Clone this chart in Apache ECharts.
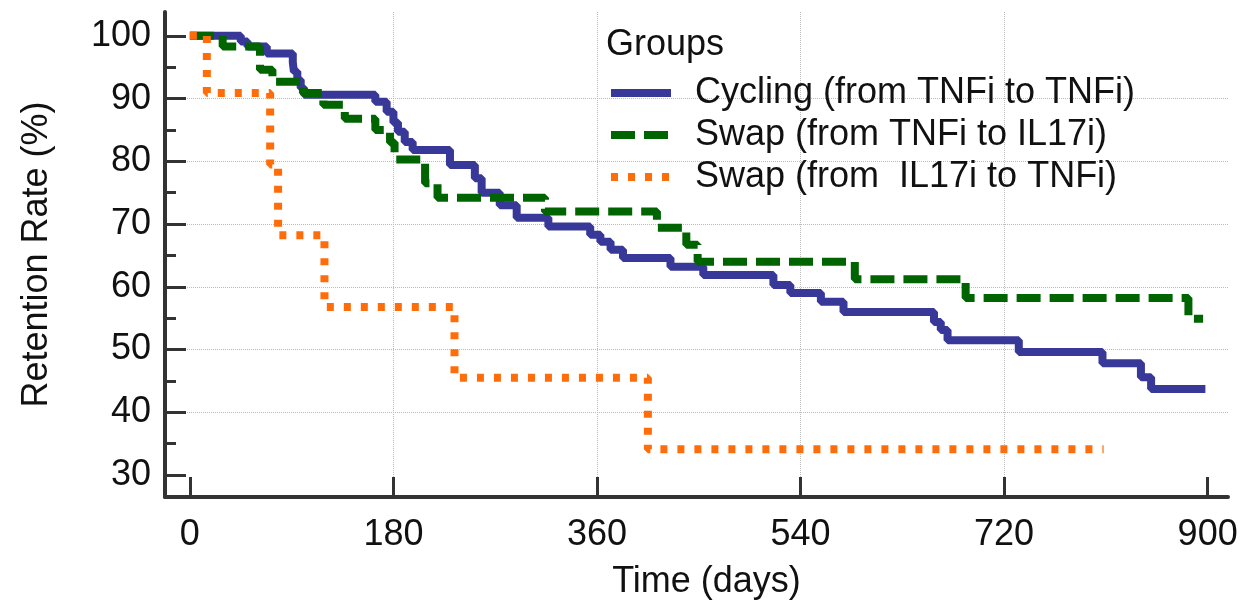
<!DOCTYPE html>
<html>
<head>
<meta charset="utf-8">
<title>Retention Rate</title>
<script src="https://cdn.jsdelivr.net/npm/echarts@6/dist/echarts.min.js"></script>
<style>
  html, body { margin: 0; padding: 0; background: #fff; }
  #chart { width: 1248px; height: 609px; }
</style>
</head>
<body>
<div id="chart"></div>
<script>
// 数据：各组的时间点(天)与保留率(%)
var cyclingDays = [0, 45, 51, 68, 91, 92, 95, 98, 101, 164, 174, 180, 184, 190, 197, 230, 252, 258, 274, 289,
  317, 354, 363, 372, 383, 425, 454, 516, 531, 558, 578, 658, 664, 670, 733, 807, 841, 850, 898];
var cyclingRate = [100, 99.1, 98.3, 97.2, 95.8, 94.3, 93, 91.7, 90.6, 89.5, 87.9, 86.2, 84.7, 83.1, 81.8, 79.4, 77.3, 75, 73, 71,
  69.6, 68.3, 67.2, 65.9, 64.6, 63.2, 61.9, 60.3, 59, 57.6, 56, 54.4, 53.1, 51.5, 49.6, 47.8, 45.6, 43.7, 43.7];

var swapIl17Days = [0, 29, 62, 73, 100, 118, 137, 164, 177, 181, 208, 219, 314, 413, 439, 449, 588, 686, 883, 896];
var swapIl17Rate = [100, 98.3, 94.6, 92.7, 90.9, 89, 86.8, 85, 83, 80.3, 76.5, 74.2, 72, 69.4, 66.7, 64, 61.2, 58.2, 54.9, 54.9];

var swapTnfDays = [0, 15, 71, 78, 119, 234, 405, 808];
var swapTnfRate = [100, 90.9, 79.5, 68.2, 56.8, 45.5, 34.1, 34.1];

var groupNames = ['Cycling (from TNFi to TNFi)', 'Swap (from TNFi to IL17i)', 'Swap (from  IL17i to TNFi)'];

var xTicks = [0, 180, 360, 540, 720, 900];
var yTicks = [30, 40, 50, 60, 70, 80, 90, 100];
var yMinorTicks = [35, 45, 55, 65, 75, 85, 95];

function pairs(xs, ys) {
  return xs.map(function (x, i) { return [x, ys[i]]; });
}

var font = 'Liberation Sans, Arial, sans-serif';
var axisColor = '#333';
var gridLine = { show: true, showMinLine: false, showMaxLine: false, lineStyle: { type: 'dotted', color: '#bbb', width: 1 } };

var myChart = echarts.init(document.getElementById('chart'));

var option = {
  animation: false,
  backgroundColor: '#fff',
  textStyle: { fontFamily: font, color: '#111' },
  title: {
    text: 'Groups',
    left: 606,
    top: 27,
    padding: 0,
    textStyle: { fontSize: 36, fontWeight: 'normal', color: '#111', fontFamily: font }
  },
  legend: {
    orient: 'vertical',
    left: 607,
    top: 75,
    padding: 0,
    itemGap: 6,
    itemWidth: 60,
    itemHeight: 14,
    data: groupNames,
    itemStyle: { opacity: 0 },
    lineStyle: { width: 8 },
    textStyle: { fontSize: 36, color: '#111', fontFamily: font, padding: [0, 0, 0, 19] }
  },
  grid: { left: 165, right: 20, top: 12, bottom: 112 },
  xAxis: {
    type: 'value',
    min: -22,
    max: 918,
    name: 'Time (days)',
    nameLocation: 'middle',
    nameGap: 67,
    nameTextStyle: { fontSize: 36, color: '#111', fontFamily: font, padding: [0, 0, 0, 20] },
    axisLine: { show: true, onZero: false, lineStyle: { color: axisColor, width: 4 } },
    axisTick: { show: true, inside: true, length: 20, customValues: xTicks, lineStyle: { color: axisColor, width: 3 } },
    axisLabel: { customValues: xTicks, fontSize: 36, margin: 20, color: '#111', fontFamily: font },
    splitLine: gridLine
  },
  yAxis: [{
    type: 'value',
    min: 26.5,
    max: 103.8,
    name: 'Retention Rate (%)',
    nameLocation: 'middle',
    nameGap: 110,
    nameTextStyle: { fontSize: 36, color: '#111', fontFamily: font },
    axisLine: { show: true, onZero: false, lineStyle: { color: axisColor, width: 4 } },
    axisTick: { show: true, inside: true, length: 21, customValues: yTicks, lineStyle: { color: axisColor, width: 3 } },
    axisLabel: { customValues: yTicks, fontSize: 36, margin: 14, color: '#111', fontFamily: font },
    splitLine: gridLine
  }, {
    // 次刻度
    type: 'value',
    position: 'left',
    min: 26.5,
    max: 103.8,
    axisLine: { show: false, onZero: false },
    axisTick: { show: true, inside: true, length: 11, customValues: yMinorTicks, lineStyle: { color: axisColor, width: 3 } },
    axisLabel: { show: false },
    splitLine: { show: false }
  }],
  series: [{
    name: groupNames[0],
    type: 'line',
    step: 'end',
    symbol: 'none',
    data: pairs(cyclingDays, cyclingRate),
    itemStyle: { color: '#383899' },
    lineStyle: { color: '#383899', width: 8, type: 'solid' },
    z: 3
  }, {
    name: groupNames[1],
    type: 'line',
    step: 'end',
    symbol: 'none',
    data: pairs(swapIl17Days, swapIl17Rate),
    itemStyle: { color: '#006400' },
    lineStyle: { color: '#006400', width: 8, type: [24, 9] },
    z: 4
  }, {
    name: groupNames[2],
    type: 'line',
    step: 'end',
    symbol: 'none',
    data: pairs(swapTnfDays, swapTnfRate),
    itemStyle: { color: '#ff6c0a' },
    lineStyle: { color: '#ff6c0a', width: 8, type: [7, 10] },
    z: 5
  }]
};

myChart.setOption(option);
</script>
</body>
</html>
